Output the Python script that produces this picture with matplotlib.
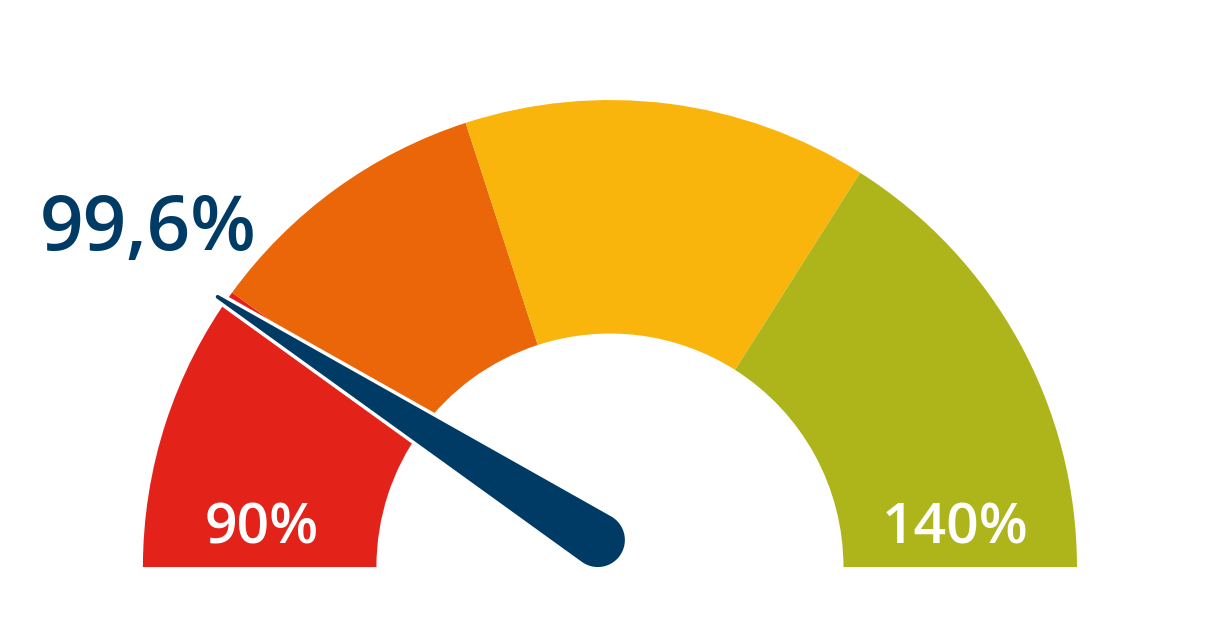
import numpy as np
import matplotlib
matplotlib.use("Agg")
import matplotlib.pyplot as plt
from matplotlib.patches import Wedge, Polygon

# gauge data
vmin, vmax = 90, 140
bounds = [90, 100, 110, 124, 140]
colors = ["#E3231A", "#EB6608", "#F9B50B", "#ADB51A"]
value = 99.6
value_label = "99,6%"
min_label = "90%"
max_label = "140%"

navy = "#003B65"
r_out, r_in = 1.0, 0.5

def ang(v):
    return 180 - (v - vmin) / (vmax - vmin) * 180

plt.rcParams['font.family'] = ['Open Sans', 'DejaVu Sans']

fig = plt.figure(figsize=(12.18, 6.40), dpi=100)
ax = fig.add_axes([0, 0, 1, 1])
ax.set_xlim(-1.306, 1.302)
ax.set_ylim(-0.156, 1.214)
ax.set_aspect('equal')
ax.axis('off')

for i in range(len(colors)):
    ax.add_patch(Wedge((0, 0), r_out, ang(bounds[i + 1]), ang(bounds[i]),
                       width=r_out - r_in, facecolor=colors[i], edgecolor='none'))

# needle: teardrop from pivot to the value angle
piv = np.array([-0.026, 0.058])
th = np.radians(ang(value))
tip = 1.02 * np.array([np.cos(th), np.sin(th)])
d = tip - piv
L = np.hypot(*d)
phi = np.arctan2(d[1], d[0])
rb, rt = 0.058, 0.004
beta = np.arccos((rb - rt) / L)
back = np.linspace(phi + beta, phi + 2 * np.pi - beta, 40)
front = np.linspace(phi - beta, phi + beta, 10)
pts = [piv + rb * np.array([np.cos(a), np.sin(a)]) for a in back]
pts += [tip + rt * np.array([np.cos(a), np.sin(a)]) for a in front]
ax.add_patch(Polygon(pts, closed=True, facecolor='white', edgecolor='white',
                     linewidth=5, joinstyle='round'))
ax.add_patch(Polygon(pts, closed=True, facecolor=navy, edgecolor='none'))

ax.text(-0.745, 0.051, min_label, color='white', fontsize=41, fontweight='semibold',
        ha='center', va='baseline')
ax.text(0.739, 0.051, max_label, color='white', fontsize=41, fontweight='semibold',
        ha='center', va='baseline')
ax.text(-0.989, 0.679, value_label, color=navy, fontsize=55, fontweight='semibold',
        ha='center', va='baseline')

fig.savefig("out.png", dpi=100)
